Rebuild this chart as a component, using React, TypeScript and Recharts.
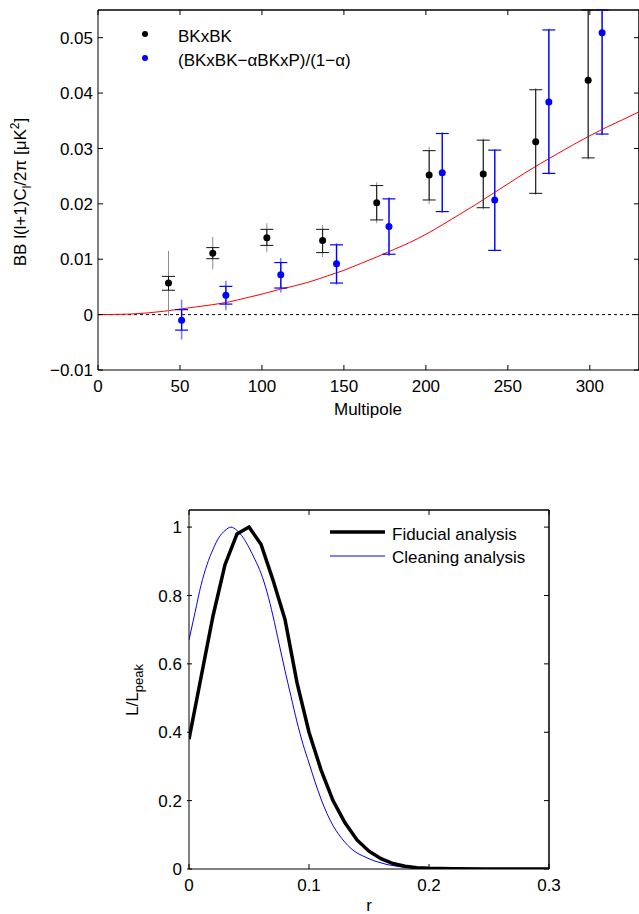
import React from "react";
import {
  ComposedChart,
  LineChart,
  Line,
  Scatter,
  ErrorBar,
  XAxis,
  YAxis,
  ReferenceLine,
} from "recharts";

const FONT = "'Liberation Sans', Arial, Helvetica, sans-serif";
const FS = 17;

// ---- top panel: bandpowers ----
const theoryL = [0, 10, 20, 30, 40, 50, 60, 70, 80, 90, 100, 110, 120, 130, 140, 150, 160, 170, 180, 190, 200, 210, 220, 230, 240, 250, 260, 270, 280, 290, 300, 310, 320, 330];
const theoryBB = [0, 0.00003, 0.0001, 0.0003, 0.0006, 0.001, 0.0014, 0.0018, 0.0023, 0.003, 0.0037, 0.0045, 0.0052, 0.006, 0.007, 0.008, 0.0092, 0.0104, 0.0117, 0.013, 0.0145, 0.0162, 0.018, 0.0198, 0.0217, 0.0236, 0.0255, 0.0273, 0.029, 0.0307, 0.0323, 0.0338, 0.0352, 0.0366];

const bkL = [43, 70, 103, 137, 170, 202, 235, 267, 299];
const bkVal = [0.0057, 0.0111, 0.0139, 0.0134, 0.0202, 0.0252, 0.0254, 0.0312, 0.0423];
const bkCapLo = [0.0044, 0.0101, 0.0125, 0.0112, 0.0171, 0.0207, 0.0193, 0.0219, 0.0283];
const bkCapHi = [0.0069, 0.0121, 0.0154, 0.0154, 0.0233, 0.0296, 0.0315, 0.0406, 0.055];
const bkBarLo = [-0.0003, 0.0082, 0.0113, 0.0104, 0.0165, 0.02, 0.019, 0.0216, 0.028];
const bkBarHi = [0.0115, 0.014, 0.0165, 0.0162, 0.0239, 0.0303, 0.0318, 0.0409, 0.055];

const clL = [51, 78, 111.5, 145.5, 177.5, 210, 242, 275, 307.5];
const clVal = [-0.001, 0.0035, 0.0072, 0.0092, 0.0159, 0.0256, 0.0207, 0.0384, 0.0509];
const clCapLo = [-0.0028, 0.0019, 0.0048, 0.0057, 0.0109, 0.0186, 0.0116, 0.0255, 0.0326];
const clCapHi = [0.0009, 0.0051, 0.0094, 0.0126, 0.0209, 0.0327, 0.0297, 0.0514, 0.055];
const clBarLo = [-0.0045, 0.0008, 0.004, 0.0054, 0.0106, 0.0184, 0.0114, 0.0253, 0.0324];
const clBarHi = [0.0027, 0.0061, 0.0102, 0.0129, 0.0212, 0.0329, 0.0299, 0.0516, 0.055];

const topXTicks = [0, 50, 100, 150, 200, 250, 300];
const topYTicks = [-0.01, 0, 0.01, 0.02, 0.03, 0.04, 0.05];
const topXDomain = [0, 330];
const topYDomain = [-0.01, 0.055];

// ---- bottom panel: likelihoods ----
const fidR = [0, 0.01, 0.02, 0.03, 0.04, 0.05, 0.06, 0.07, 0.08, 0.09, 0.1, 0.11, 0.12, 0.13, 0.14, 0.15, 0.16, 0.17, 0.18, 0.19, 0.2, 0.22, 0.25, 0.3];
const fidLike = [0.38, 0.56, 0.74, 0.89, 0.98, 1.0, 0.95, 0.845, 0.73, 0.545, 0.4, 0.29, 0.2, 0.135, 0.085, 0.052, 0.03, 0.016, 0.008, 0.004, 0.002, 0.0005, 0, 0];

const cleanR = [0, 0.005, 0.01, 0.015, 0.02, 0.025, 0.03, 0.035, 0.04, 0.045, 0.05, 0.055, 0.06, 0.065, 0.07, 0.075, 0.08, 0.085, 0.09, 0.095, 0.1, 0.105, 0.11, 0.115, 0.12, 0.125, 0.13, 0.135, 0.14, 0.145, 0.15, 0.155, 0.16, 0.165, 0.17, 0.175, 0.18, 0.185, 0.19, 0.195, 0.2, 0.22, 0.25, 0.3];
const cleanLike = [0.67, 0.75, 0.83, 0.89, 0.935, 0.97, 0.99, 1.0, 0.99, 0.97, 0.94, 0.905, 0.865, 0.81, 0.74, 0.66, 0.58, 0.505, 0.43, 0.365, 0.31, 0.255, 0.205, 0.162, 0.127, 0.1, 0.078, 0.06, 0.047, 0.038, 0.03, 0.023, 0.018, 0.013, 0.01, 0.007, 0.005, 0.004, 0.003, 0.002, 0.001, 0.0004, 0, 0];

const botXTicks = [0, 0.1, 0.2, 0.3];
const botYTicks = [0, 0.2, 0.4, 0.6, 0.8, 1];
const botXDomain = [0, 0.3];
const botYDomain = [0, 1.05];

const fmt = (v: number) => (v < 0 ? "\u2212" + String(-v) : String(v));

const theoryData = theoryL.map((x, i) => ({ x, y: theoryBB[i] }));
const mkPoints = (ls: number[], vals: number[], cLo: number[], cHi: number[], bLo: number[], bHi: number[]) =>
  ls.map((x, i) => ({
    x,
    y: vals[i],
    cap: [vals[i] - cLo[i], cHi[i] - vals[i]],
    bar: [vals[i] - bLo[i], bHi[i] - vals[i]],
  }));
const bkData = mkPoints(bkL, bkVal, bkCapLo, bkCapHi, bkBarLo, bkBarHi);
const clData = mkPoints(clL, clVal, clCapLo, clCapHi, clBarLo, clBarHi);
const fidData = fidR.map((r, i) => ({ r, y: fidLike[i] }));
const cleanData = cleanR.map((r, i) => ({ r, y: cleanLike[i] }));

const txt = { fontFamily: FONT, fontSize: FS, fill: "#000" };

const LeftTick = (p: any) => (
  <g>
    <line x1={p.x} x2={p.x + 5} y1={p.y} y2={p.y} stroke="#000" />
    <text x={p.x - 5} y={p.y} dy="0.36em" textAnchor="end" style={txt}>
      {fmt(p.payload.value)}
    </text>
  </g>
);
const BottomTick = (p: any) => (
  <g>
    <line x1={p.x} x2={p.x} y1={p.y - 5} y2={p.y} stroke="#000" />
    <text x={p.x} y={p.y + 22} textAnchor="middle" style={txt}>
      {fmt(p.payload.value)}
    </text>
  </g>
);
const TopTick = (p: any) => <line x1={p.x} x2={p.x} y1={p.y} y2={p.y + 5} stroke="#000" />;
const RightTick = (p: any) => <line x1={p.x - 5} x2={p.x} y1={p.y} y2={p.y} stroke="#000" />;

const dot = (color: string) => (p: any) => <circle cx={p.cx} cy={p.cy} r={3.5} fill={color} />;

const axisLine = { stroke: "#000", strokeWidth: 1 };

function TopChart() {
  return (
    <ComposedChart width={660} height={420} margin={{ top: 9, right: 20, bottom: 0, left: 0 }}>
      <XAxis dataKey="x" type="number" domain={topXDomain} ticks={topXTicks} allowDataOverflow height={50}
        tickSize={0} tickMargin={0} tick={BottomTick} axisLine={axisLine} />
      <XAxis xAxisId="t" dataKey="x" orientation="top" type="number" domain={topXDomain} ticks={topXTicks} allowDataOverflow height={1}
        tickSize={0} tickMargin={0} tick={TopTick} axisLine={axisLine} />
      <YAxis type="number" domain={topYDomain} ticks={topYTicks} allowDataOverflow width={98}
        tickSize={0} tickMargin={0} tick={LeftTick} axisLine={axisLine} />
      <YAxis yAxisId="r" orientation="right" type="number" domain={topYDomain} ticks={topYTicks} allowDataOverflow width={1}
        tickSize={0} tickMargin={0} tick={RightTick} axisLine={axisLine} />
      {/* box frame */}
      <ReferenceLine y={topYDomain[1]} stroke="#000" strokeWidth={1} />
      <ReferenceLine x={topXDomain[1]} stroke="#000" strokeWidth={1} />
      <ReferenceLine y={0} stroke="#000" strokeDasharray="3 3" strokeWidth={1} />
      {/* invisible copy that binds the frame axes */}
      <Line data={theoryData} dataKey="y" xAxisId="t" yAxisId="r" stroke="none" dot={false} isAnimationActive={false} />
      <Line data={theoryData} dataKey="y" type="monotone" stroke="#ff0000" strokeWidth={1} dot={false} isAnimationActive={false} />
      <Scatter data={bkData} dataKey="y" shape={dot("#000")} isAnimationActive={false}>
        <ErrorBar dataKey="bar" direction="y" width={0} stroke="#8c8c8c" strokeWidth={1} />
        <ErrorBar dataKey="cap" direction="y" width={6.5} stroke="#111" strokeWidth={1} />
      </Scatter>
      <Scatter data={clData} dataKey="y" shape={dot("#0000ff")} isAnimationActive={false}>
        <ErrorBar dataKey="bar" direction="y" width={0} stroke="#7a7aff" strokeWidth={1.5} />
        <ErrorBar dataKey="cap" direction="y" width={6.5} stroke="#0000ff" strokeWidth={1.2} />
      </Scatter>
      {/* legend */}
      <circle cx={145} cy={34} r={3} fill="#000" />
      <circle cx={145} cy={58} r={3} fill="#0000ff" />
      <text x={178} y={42} style={txt}>BKxBK</text>
      <text x={178} y={66} style={txt}>(BKxBK{"\u2212"}αBKxP)/(1{"\u2212"}α)</text>
      {/* axis labels */}
      <text x={368} y={415} textAnchor="middle" style={txt}>Multipole</text>
      <text x={26} y={192} textAnchor="middle" transform="rotate(-90 26 192)" style={txt}>
        BB l(l+1)C<tspan dy={5} fontSize={12}>l</tspan>
        <tspan dy={-5}>/2π [μK</tspan>
        <tspan dy={-7} fontSize={12}>2</tspan>
        <tspan dy={7}>]</tspan>
      </text>
    </ComposedChart>
  );
}

function BottomChart() {
  return (
    <LineChart width={639} height={444} margin={{ top: 39, right: 89, bottom: 0, left: 0 }}>
      <XAxis dataKey="r" type="number" domain={botXDomain} ticks={botXTicks} allowDataOverflow height={45}
        tickSize={0} tickMargin={0} tick={BottomTick} axisLine={axisLine} />
      <XAxis xAxisId="t" dataKey="r" orientation="top" type="number" domain={botXDomain} ticks={botXTicks} allowDataOverflow height={1}
        tickSize={0} tickMargin={0} tick={TopTick} axisLine={axisLine} />
      <YAxis type="number" domain={botYDomain} ticks={botYTicks} allowDataOverflow width={189}
        tickSize={0} tickMargin={0} tick={(p: any) => <LeftTick {...p} x={p.x - 2} />} axisLine={axisLine} />
      <YAxis yAxisId="r" orientation="right" type="number" domain={botYDomain} ticks={botYTicks} allowDataOverflow width={1}
        tickSize={0} tickMargin={0} tick={RightTick} axisLine={axisLine} />
      {/* box frame */}
      <ReferenceLine y={botYDomain[1]} stroke="#000" strokeWidth={1} />
      <ReferenceLine x={botXDomain[1]} stroke="#000" strokeWidth={1} />
      <Line data={cleanData} dataKey="y" xAxisId="t" yAxisId="r" stroke="none" dot={false} isAnimationActive={false} />
      <Line data={cleanData} dataKey="y" type="monotone" stroke="#0000ff" strokeWidth={1} dot={false} isAnimationActive={false} />
      <Line data={fidData} dataKey="y" type="linear" stroke="#000" strokeWidth={3.5} dot={false} isAnimationActive={false} />
      {/* legend */}
      <line x1={330} x2={385} y1={62} y2={62} stroke="#000" strokeWidth={3.5} />
      <line x1={330} x2={385} y1={86} y2={86} stroke="#0000ff" strokeWidth={1} />
      <text x={392} y={70} style={txt}>Fiducial analysis</text>
      <text x={392} y={93} style={txt}>Cleaning analysis</text>
      {/* axis labels */}
      <text x={369} y={441} textAnchor="middle" style={txt}>r</text>
      <text x={138} y={220} textAnchor="middle" transform="rotate(-90 138 220)" style={txt}>
        L/L<tspan dy={5} fontSize={13}>peak</tspan>
      </text>
    </LineChart>
  );
}

export default function App() {
  return (
    <div style={{ position: "absolute", left: 0, top: 0, width: 639, height: 914, overflow: "hidden", background: "#fff" }}>
      <div style={{ position: "absolute", left: 0, top: 0 }}>
        <TopChart />
      </div>
      <div style={{ position: "absolute", left: 0, top: 470 }}>
        <BottomChart />
      </div>
    </div>
  );
}
